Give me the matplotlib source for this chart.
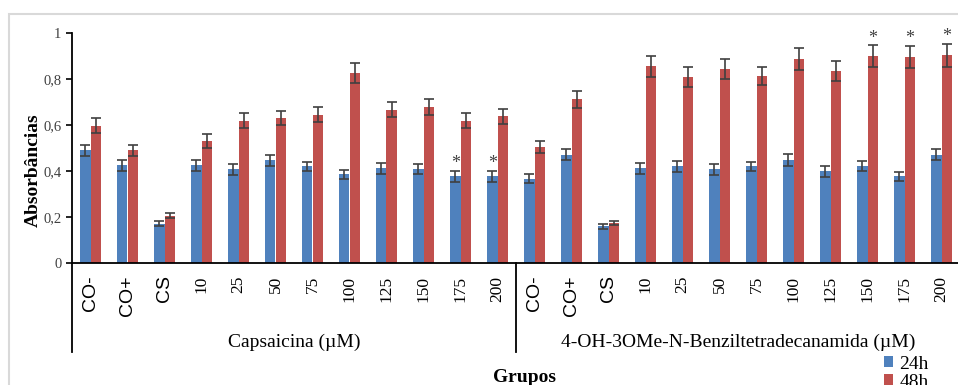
import matplotlib.pyplot as plt
import numpy as np
from matplotlib.patches import Rectangle

# absorbance readings, 24h and 48h, for both compounds
doses = ['CO-', 'CO+', 'CS', '10', '25', '50', '75', '100', '125', '150', '175', '200']
labels = doses + doses
groups = ['Capsaicina (\u00b5M)', '4-OH-3OMe-N-Benziltetradecanamida (\u00b5M)']

abs_24h = [0.490, 0.424, 0.171, 0.424, 0.407, 0.446, 0.420, 0.385, 0.411, 0.407, 0.377, 0.377,
           0.367, 0.471, 0.159, 0.411, 0.420, 0.407, 0.420, 0.447, 0.398, 0.420, 0.377, 0.471]
err_24h = [0.025, 0.023, 0.010, 0.023, 0.024, 0.025, 0.020, 0.021, 0.022, 0.022, 0.023, 0.023,
           0.020, 0.025, 0.011, 0.022, 0.024, 0.024, 0.021, 0.025, 0.022, 0.022, 0.019, 0.025]
abs_48h = [0.597, 0.490, 0.206, 0.530, 0.619, 0.629, 0.645, 0.826, 0.667, 0.677, 0.619, 0.638,
           0.506, 0.711, 0.174, 0.856, 0.807, 0.843, 0.813, 0.886, 0.835, 0.900, 0.895, 0.903]
err_48h = [0.033, 0.025, 0.012, 0.031, 0.033, 0.031, 0.034, 0.043, 0.034, 0.035, 0.033, 0.032,
           0.026, 0.037, 0.008, 0.046, 0.043, 0.043, 0.041, 0.048, 0.044, 0.046, 0.049, 0.049]

# significant groups (asterisk)
star_24h = [10, 11]
star_48h = [21, 22, 23]

plt.rcParams['font.family'] = 'Liberation Serif'

W, H = 958, 385
fig = plt.figure(figsize=(W / 100, H / 100), dpi=100)
ax = fig.add_axes([72 / W, (H - 263) / H, 888 / W, 230 / H])

x = np.arange(len(labels))
bw = 0.284
blue = '#4F81BD'
red = '#C0504D'
ecol = '#404040'

ax.bar(x - bw / 2, abs_24h, bw, color=blue, label='24h')
ax.bar(x + bw / 2, abs_48h, bw, color=red, label='48h')
ekw = dict(fmt='none', ecolor=ecol, elinewidth=1.2, capsize=3.5, capthick=1.2)
ax.errorbar(x - bw / 2, abs_24h, yerr=err_24h, **ekw)
ax.errorbar(x + bw / 2, abs_48h, yerr=err_48h, **ekw)

for i in star_24h:
    ax.annotate('*', (x[i] - bw / 2, abs_24h[i] + err_24h[i]), xytext=(0, 2), textcoords='offset points',
                ha='center', va='baseline', fontsize=13, color=ecol)
for i in star_48h:
    ax.annotate('*', (x[i] + bw / 2, abs_48h[i] + err_48h[i]), xytext=(0, 2), textcoords='offset points',
                ha='center', va='baseline', fontsize=13, color=ecol)

ax.set_xlim(-0.5, 23.5)
ax.set_ylim(0, 1)
ax.set_yticks([0, 0.2, 0.4, 0.6, 0.8, 1.0])
ax.set_yticklabels(['0', '0,2', '0,4', '0,6', '0,8', '1'], fontsize=10.5, color='#404040')
ax.tick_params(axis='y', length=4, width=1.2, direction='out')

ax.set_xticks(x)
ax.set_xticklabels(labels, rotation=90, fontsize=12.5)
for t in ax.get_xticklabels():
    if t.get_text() in ('CO-', 'CO+', 'CS'):
        t.set_family('Liberation Sans')
        t.set_fontsize(14)
ax.tick_params(axis='x', length=0, pad=9)

for s in ['top', 'right']:
    ax.spines[s].set_visible(False)
ax.spines['left'].set_linewidth(1.3)
ax.spines['bottom'].set_linewidth(1.3)

# group separators below the axis
tr = ax.get_xaxis_transform()
for xv in [-0.5, 11.5]:
    ax.plot([xv, xv], [0, -0.387], transform=tr, color='black', lw=1.3, clip_on=False)
ax.text(5.5, -0.343, groups[0], transform=tr, ha='center', va='center', fontsize=14)
ax.text(17.5, -0.343, groups[1], transform=tr, ha='center', va='center', fontsize=14)

ax.set_ylabel('Absorb\u00e2ncias', fontsize=14, fontweight='bold')
ax.yaxis.set_label_coords(-0.034, 0.404)

fig.text(525 / W, 3 / H, 'Grupos', ha='center', va='baseline', fontsize=14, fontweight='bold')

fig.legend(loc='upper left', bbox_to_anchor=(874 / W, (H - 346) / H), frameon=False, fontsize=14,
           handlelength=0.5, handleheight=0.5, handletextpad=0.3, labelspacing=0.05, borderpad=0)

# chart area border
fig.add_artist(Rectangle((9 / W, -0.1), 1.2, (H - 14) / H + 0.1, transform=fig.transFigure,
                         fill=False, edgecolor='#D9D9D9', lw=1.5))

fig.savefig('out.png', dpi=100)
